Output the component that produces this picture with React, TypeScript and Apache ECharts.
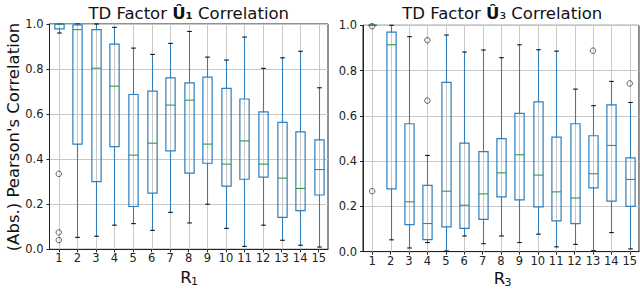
import React, { useEffect, useRef } from "react";
import * as echarts from "echarts";

const categories = ["1", "2", "3", "4", "5", "6", "7", "8", "9", "10", "11", "12", "13", "14", "15"];
const yTicks = [0, 0.2, 0.4, 0.6, 0.8, 1.0];

// Panel 1: TD Factor U1
const u1Low = [0.96, 0.053, 0.058, 0.107, 0.114, 0.084, 0.164, 0.117, 0.2, 0.093, 0.013, 0.107, 0.04, 0.018, 0.01];
const u1Q1 = [0.978, 0.467, 0.3, 0.456, 0.19, 0.249, 0.437, 0.338, 0.382, 0.28, 0.311, 0.32, 0.142, 0.172, 0.241];
const u1Med = [1.0, 0.975, 0.804, 0.724, 0.418, 0.471, 0.64, 0.662, 0.467, 0.378, 0.481, 0.378, 0.316, 0.27, 0.354];
const u1Q3 = [1.0, 0.996, 0.975, 0.911, 0.687, 0.702, 0.761, 0.739, 0.764, 0.714, 0.667, 0.61, 0.563, 0.521, 0.486];
const u1High = [1.0, 1.0, 1.0, 0.985, 0.893, 0.865, 0.914, 0.967, 0.853, 0.84, 0.942, 0.803, 0.85, 0.879, 0.717];
const u1Outliers: [number, number][] = [[0, 0.335], [0, 0.075], [0, 0.041]];

// Panel 2: TD Factor U3
const u3Low = [1.0, 0.052, 0.016, 0.04, 0.003, 0.069, 0.035, 0.069, 0.04, 0.077, 0.021, 0.032, 0.004, 0.084, 0.012];
const u3Q1 = [1.0, 0.277, 0.119, 0.053, 0.109, 0.103, 0.142, 0.242, 0.229, 0.198, 0.136, 0.124, 0.282, 0.223, 0.2];
const u3Med = [1.0, 0.914, 0.22, 0.124, 0.267, 0.205, 0.255, 0.348, 0.428, 0.338, 0.264, 0.237, 0.344, 0.469, 0.319];
const u3Q3 = [1.0, 0.97, 0.565, 0.293, 0.748, 0.479, 0.442, 0.499, 0.611, 0.662, 0.506, 0.565, 0.512, 0.648, 0.414];
const u3High = [1.0, 1.0, 0.95, 0.425, 0.957, 0.882, 0.891, 0.857, 0.914, 0.892, 0.886, 0.718, 0.645, 0.752, 0.659];
const u3Outliers: [number, number][] = [[0, 0.996], [0, 0.267], [3, 0.667], [3, 0.934], [12, 0.888], [14, 0.743]];

const FONT = "DejaVu Sans";
const BLUE = "#2f7fbd";
const GREEN = "#2ca02c";
const GRIDC = "#c8c8c8";

function boxData(low: number[], q1: number[], med: number[], q3: number[], high: number[]) {
  return categories.map((_, i) => [i, low[i], q1[i], med[i], q3[i], high[i]]);
}

const renderBox = (params: any, api: any) => {
  const x = api.value(0);
  const low = api.coord([x, api.value(1)]);
  const q1 = api.coord([x, api.value(2)]);
  const med = api.coord([x, api.value(3)]);
  const q3 = api.coord([x, api.value(4)]);
  const high = api.coord([x, api.value(5)]);
  const top = api.coord([x, 1])[1];
  const bottom = api.coord([x, 0])[1];
  const band = api.size([1, 0])[0];
  const bw = band * 0.5;
  const cw = band * 0.25;
  const cx = Math.round(low[0]) + 0.5;
  return {
    type: "group",
    children: [
      { type: "line", shape: { x1: cx, y1: top, x2: cx, y2: bottom }, style: { stroke: GRIDC, lineWidth: 1 } },
      { type: "line", shape: { x1: cx, y1: q1[1], x2: cx, y2: low[1] }, style: { stroke: BLUE, lineWidth: 1.1 } },
      { type: "line", shape: { x1: cx, y1: q3[1], x2: cx, y2: high[1] }, style: { stroke: BLUE, lineWidth: 1.1 } },
      { type: "line", shape: { x1: cx - cw / 2, y1: low[1], x2: cx + cw / 2, y2: low[1] }, style: { stroke: "#111", lineWidth: 1.1 } },
      { type: "line", shape: { x1: cx - cw / 2, y1: high[1], x2: cx + cw / 2, y2: high[1] }, style: { stroke: "#111", lineWidth: 1.1 } },
      { type: "line", shape: { x1: cx - bw / 2, y1: med[1], x2: cx + bw / 2, y2: med[1] }, style: { stroke: GREEN, lineWidth: 1.1 } },
      { type: "rect", shape: { x: cx - bw / 2, y: q3[1], width: bw, height: q1[1] - q3[1] }, style: { stroke: BLUE, fill: "none", lineWidth: 1.2 } },
    ],
  };
};

const gridLeft = [49.5, 363];
const gridTop = [24, 25.3];
const gridHeight = [225.3, 226.3];
const gridWidth = 278.5;

export default function App() {
  const ref = useRef<HTMLDivElement>(null);
  useEffect(() => {
    if (!ref.current) return;
    const chart = echarts.init(ref.current, null, { renderer: "svg" });
    const panels = [0, 1];
    const xAxes = panels.map((g) => ({
      type: "category",
      gridIndex: g,
      data: categories,
      boundaryGap: true,
      axisLine: { show: true, lineStyle: { color: "#222", width: 1 } },
      axisTick: { show: true, alignWithLabel: true, length: 3, lineStyle: { color: "#222" } },
      axisLabel: { interval: 0, color: "#222", fontFamily: FONT, fontSize: 11.5, margin: 3 },
      splitLine: { show: false },
    }));
    const yAxes = panels.map((g) => ({
      type: "value",
      gridIndex: g,
      min: 0,
      max: 1,
      interval: 0.2,
      axisLine: { show: true, lineStyle: { color: "#222", width: 1 } },
      axisTick: { show: true, length: 3, lineStyle: { color: "#222" } },
      axisLabel: {
        color: "#222",
        fontFamily: FONT,
        fontSize: 11.5,
        margin: 6,
        formatter: (v: number) => (yTicks.some((t) => Math.abs(t - v) < 1e-9) ? v.toFixed(1) : ""),
      },
      splitLine: { show: true, lineStyle: { color: GRIDC, width: 1 } },
    }));
    const centers = panels.map((g) => gridLeft[g] + gridWidth / 2);
    const xName = (cx: number, sub: string, dy: number) => [
      {
        type: "text",
        x: cx - 8.5,
        y: 277.5 + dy,
        style: { text: "R", align: "left", verticalAlign: "middle", fontFamily: FONT, fontSize: 16.5, fill: "#111" },
      },
      {
        type: "text",
        x: cx + 2.3,
        y: 281.5 + dy,
        style: { text: sub, align: "left", verticalAlign: "middle", fontFamily: FONT, fontSize: 11, fill: "#111" },
      },
    ];
    const option: any = {
      animation: false,
      backgroundColor: "#fff",
      grid: panels.map((g) => ({
        left: gridLeft[g],
        top: gridTop[g],
        width: gridWidth,
        height: gridHeight[g],
        show: true,
        borderColor: "#222",
        borderWidth: 1,
        backgroundColor: "transparent",
      })),
      xAxis: xAxes,
      yAxis: yAxes,
      series: [
        {
          type: "custom",
          xAxisIndex: 0,
          yAxisIndex: 0,
          renderItem: renderBox,
          encode: { x: 0, y: [1, 2, 3, 4, 5] },
          data: boxData(u1Low, u1Q1, u1Med, u1Q3, u1High),
          clip: false,
        },
        {
          type: "scatter",
          xAxisIndex: 0,
          yAxisIndex: 0,
          symbol: "circle",
          symbolSize: 5.5,
          itemStyle: { color: "rgba(0,0,0,0)", borderColor: "#3a3a3a", borderWidth: 1 },
          data: u1Outliers,
        },
        {
          type: "custom",
          xAxisIndex: 1,
          yAxisIndex: 1,
          renderItem: renderBox,
          encode: { x: 0, y: [1, 2, 3, 4, 5] },
          data: boxData(u3Low, u3Q1, u3Med, u3Q3, u3High),
          clip: false,
        },
        {
          type: "scatter",
          xAxisIndex: 1,
          yAxisIndex: 1,
          symbol: "circle",
          symbolSize: 5.5,
          itemStyle: { color: "rgba(0,0,0,0)", borderColor: "#3a3a3a", borderWidth: 1 },
          data: u3Outliers,
        },
      ],
      graphic: [
        {
          type: "text",
          x: centers[0],
          y: 13,
          style: {
            text: "TD Factor {b|Û₁} Correlation",
            align: "center",
            verticalAlign: "middle",
            fontFamily: FONT,
            fontSize: 16.5,
            fill: "#111",
            rich: { b: { fontFamily: FONT, fontSize: 16.5, fontWeight: "bold", fill: "#111" } },
          },
        },
        {
          type: "text",
          x: centers[1],
          y: 13,
          style: {
            text: "TD Factor {b|Û}₃ Correlation",
            align: "center",
            verticalAlign: "middle",
            fontFamily: FONT,
            fontSize: 16.5,
            fill: "#111",
            rich: { b: { fontFamily: FONT, fontSize: 16.5, fontWeight: "bold", fill: "#111" } },
          },
        },
        ...xName(centers[0], "1", 0),
        ...xName(centers[1], "3", 1),
        {
          type: "text",
          x: 13,
          y: 137,
          rotation: Math.PI / 2,
          style: {
            text: "(Abs.) Pearson's Correlation",
            align: "center",
            verticalAlign: "middle",
            fontFamily: FONT,
            fontSize: 16.5,
            fill: "#111",
          },
        },
      ],
    };
    chart.setOption(option);
    return () => chart.dispose();
  }, []);
  return <div ref={ref} style={{ position: "absolute", left: 0, top: 0, width: 640, height: 296 }} />;
}
